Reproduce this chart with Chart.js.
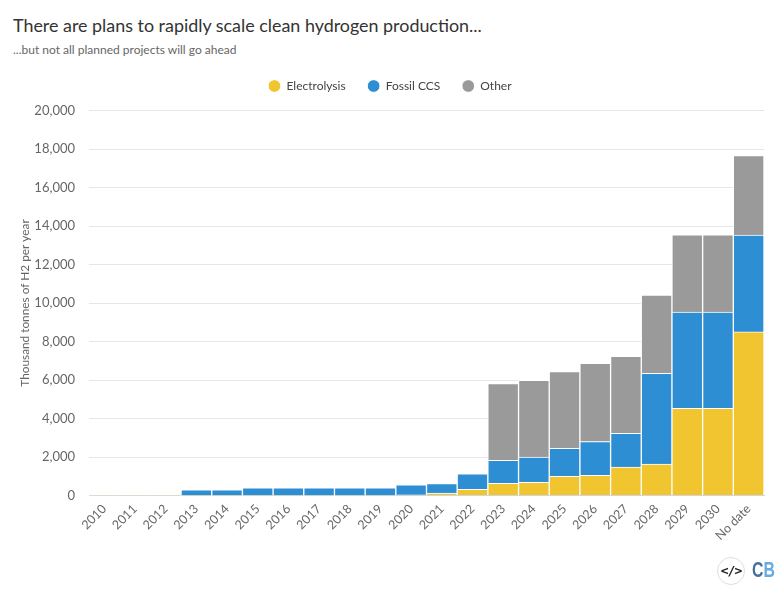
<!DOCTYPE html>
<html><head><meta charset="utf-8">
<script src="https://cdn.jsdelivr.net/npm/chart.js@4"></script>
<style>
html,body{margin:0;padding:0;background:#fff;width:780px;height:599px;overflow:hidden;font-family:Lato,sans-serif}
#t{position:absolute;left:13px;top:12px;font-size:17.9px;line-height:26px;color:#333;white-space:nowrap}
#s{position:absolute;left:13px;top:41px;font-size:12px;line-height:18px;color:#666;white-space:nowrap}
#w{position:absolute;left:0;top:58px;width:780px;height:541px}
#code{position:absolute;left:717px;top:557px;width:26px;height:26px;border:1px solid #ddd;border-radius:50%;text-align:center;line-height:25px;font-size:13px;font-weight:700;color:#222;font-family:"DejaVu Sans Mono",monospace;letter-spacing:-1px}
#cb{position:absolute;left:752px;top:556px;font-size:22px;line-height:28px;font-weight:700;font-family:"Liberation Sans",sans-serif;transform:scaleX(.72);transform-origin:left center;white-space:nowrap}
</style></head><body>
<div id="t">There are plans to rapidly scale clean hydrogen production...</div>
<div id="s">...but not all planned projects will go ahead</div>
<div id="w"><canvas id="c" width="780" height="541"></canvas></div>
<div id="code">&lt;/&gt;</div>
<div id="cb"><span style="color:#45709c">C</span><span style="color:#66abe0">B</span></div>
<script>
const categories = ["2010","2011","2012","2013","2014","2015","2016","2017","2018","2019","2020","2021","2022","2023","2024","2025","2026","2027","2028","2029","2030","No date"];
const electrolysis = [5,5,5,5,5,5,5,5,5,5,30,130,320,630,680,1000,1050,1480,1630,4530,4530,8500];
const fossilCCS = [0,0,0,285,285,395,395,395,395,395,530,490,810,1200,1310,1450,1750,1750,4720,5000,5000,5030];
const other = [0,0,0,0,0,0,0,0,0,0,0,0,0,3990,3990,3990,4060,4000,4060,4010,4010,4130];
const yTicks = [0,2000,4000,6000,8000,10000,12000,14000,16000,18000,20000];
const FONT = 'Lato, sans-serif';
const ds = (label,data,color)=>({label,data,backgroundColor:color,borderColor:'#fff',borderWidth:1,stack:'a',barPercentage:1,categoryPercentage:1,pointStyle:'circle'});
const legendGap = {id:'legendGap',
  beforeUpdate(chart){
    const l = chart.legend; if(!l||l._patched) return; l._patched = true;
    const f = l.fit; l.fit = function(){f.call(this); this.height += 8.5;};
  },
  afterLayout(chart){ const l = chart.legend; l.left += 8; l.right += 8; }
};
new Chart(document.getElementById('c'),{
  type:'bar',
  plugins:[legendGap],
  data:{labels:categories,datasets:[ds('Electrolysis',electrolysis,'#f0c530'),ds('Fossil CCS',fossilCCS,'#2e8ed3'),ds('Other',other,'#9a9a9a')]},
  options:{
    responsive:false,animation:false,
    layout:{padding:{top:0,right:16,bottom:0,left:0}},
    plugins:{
      legend:{display:true,position:'top',labels:{usePointStyle:true,boxWidth:13,boxHeight:9,padding:22,color:'#444',font:{family:FONT,size:12}}},
      tooltip:{enabled:false}
    },
    scales:{
      x:{stacked:true,
        grid:{display:false,drawTicks:false},
        border:{color:'#ccd6eb',width:1},
        ticks:{minRotation:45,maxRotation:45,autoSkip:false,color:'#666',padding:6,font:{family:FONT,size:12.5}},
        afterFit(s){s.height=103.5}
      },
      y:{stacked:true,min:0,max:20000,
        afterBuildTicks(s){s.ticks=yTicks.map(v=>({value:v}))},
        grid:{color:'#e6e6e6',drawTicks:false},
        border:{display:false},
        title:{display:true,text:'Thousand tonnes of H2 per year',color:'#666',font:{family:FONT,size:11.8},padding:{top:18,bottom:0}},
        ticks:{color:'#666',padding:14,font:{family:FONT,size:13},callback:v=>v.toLocaleString('en-US')},
        afterFit(s){s.width=89}
      }
    }
  }
});
</script>
</body></html>
